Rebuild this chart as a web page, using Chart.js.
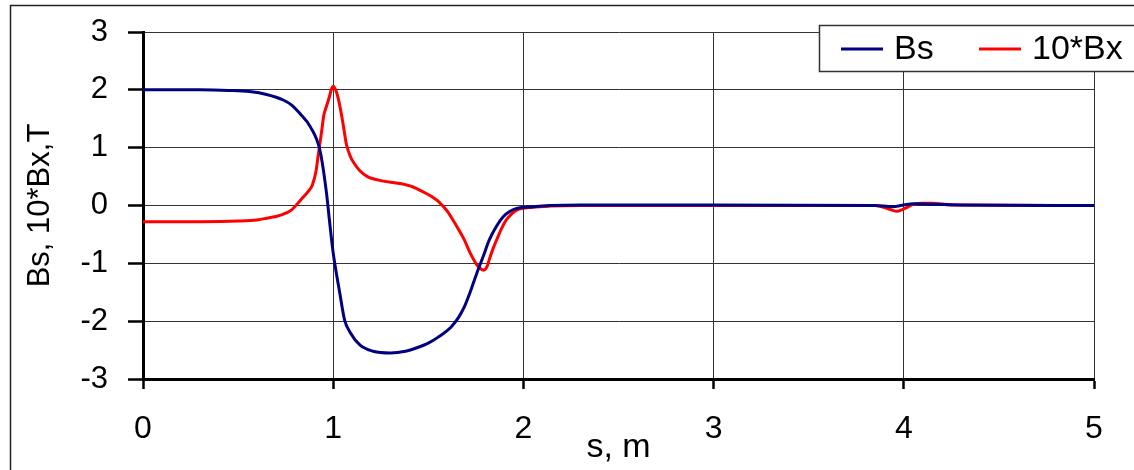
<!DOCTYPE html>
<html>
<head>
<meta charset="utf-8">
<script src="https://cdn.jsdelivr.net/npm/chart.js@4/dist/chart.umd.min.js"></script>
<style>
  html, body { margin: 0; padding: 0; background: #fff; }
  #wrap { width: 1134px; height: 470px; }
</style>
</head>
<body>
<div id="wrap"><canvas id="c" width="1134" height="470"></canvas></div>
<script>
// ---- data ----
const seriesNames = ['Bs', '10*Bx'];
const seriesColors = ['#000080', '#FF0000'];

const bsS = [0, 0.3, 0.45, 0.56, 0.65, 0.74, 0.78, 0.825, 0.88, 0.93, 0.965, 0.98, 1.0, 1.035, 1.06, 1.09, 1.14, 1.21, 1.3, 1.38, 1.44, 1.5, 1.55, 1.62, 1.66, 1.69, 1.72, 1.755, 1.79, 1.82, 1.86, 1.895, 1.93, 1.965, 2.05, 2.14, 2.3, 3.0, 3.85, 3.94, 4.0, 4.05, 4.15, 4.3, 5.0];
const bsV = [2.0, 2.0, 1.99, 1.97, 1.92, 1.82, 1.74, 1.59, 1.36, 0.96, 0.21, -0.25, -0.82, -1.52, -1.98, -2.2, -2.41, -2.52, -2.55, -2.52, -2.46, -2.38, -2.28, -2.1, -1.93, -1.75, -1.5, -1.17, -0.87, -0.6, -0.35, -0.19, -0.1, -0.05, -0.02, 0.0, 0.01, 0.01, 0.0, -0.02, 0.01, 0.03, 0.02, 0.01, 0.0];

const bxS = [0, 0.3, 0.5, 0.6, 0.65, 0.72, 0.78, 0.83, 0.87, 0.89, 0.91, 0.92, 0.94, 0.95, 0.965, 0.98, 0.99, 1.0, 1.015, 1.03, 1.05, 1.07, 1.09, 1.11, 1.14, 1.18, 1.25, 1.35, 1.42, 1.47, 1.52, 1.55, 1.6, 1.62, 1.66, 1.69, 1.72, 1.75, 1.77, 1.79, 1.81, 1.82, 1.84, 1.86, 1.885, 1.91, 1.94, 1.965, 2.05, 2.14, 2.3, 3.0, 3.85, 3.92, 3.96, 4.0, 4.05, 4.1, 4.15, 4.25, 5.0];
const bxV = [-0.28, -0.28, -0.27, -0.25, -0.22, -0.17, -0.08, 0.1, 0.25, 0.35, 0.6, 0.84, 1.3, 1.55, 1.72, 1.88, 2.0, 2.06, 1.98, 1.8, 1.45, 1.05, 0.85, 0.73, 0.6, 0.5, 0.43, 0.38, 0.32, 0.24, 0.15, 0.08, -0.1, -0.2, -0.42, -0.6, -0.82, -1.0, -1.08, -1.12, -1.05, -0.94, -0.75, -0.59, -0.4, -0.25, -0.14, -0.08, -0.03, -0.01, 0.0, 0.0, 0.0, -0.06, -0.1, -0.06, 0.02, 0.04, 0.04, 0.01, 0.0];

const xTickValues = [0, 1, 2, 3, 4, 5];
const yTickValues = [-3, -2, -1, 0, 1, 2, 3];
const xTitle = 's, m';
const yTitle = 'Bs, 10*Bx,T';

// ---- build ----
const FONT = '"Liberation Sans", Arial, sans-serif';
function pts(xs, ys) { return xs.map((x, i) => ({ x: x, y: ys[i] })); }

const frame = {
  id: 'frame',
  beforeDraw(chart) {
    const ctx = chart.ctx;
    ctx.save();
    ctx.fillStyle = '#fff';
    ctx.fillRect(0, 0, chart.width, chart.height);
    ctx.strokeStyle = '#222';
    ctx.lineWidth = 1.5;
    ctx.strokeRect(10.5, 5.5, 1200, 600);
    ctx.restore();
  },
  afterDraw(chart) {
    const ctx = chart.ctx;
    ctx.save();
    // legend box
    ctx.fillStyle = '#fff';
    ctx.fillRect(819, 25, 400, 46);
    ctx.strokeStyle = '#333';
    ctx.lineWidth = 1.5;
    ctx.strokeRect(819.5, 25.5, 400, 46);
    const items = [{ x0: 841, tx: 894 }, { x0: 979, tx: 1032 }];
    chart.data.datasets.forEach((ds, i) => {
      const it = items[i];
      ctx.strokeStyle = ds.borderColor;
      ctx.lineWidth = 3;
      ctx.beginPath();
      ctx.moveTo(it.x0, 49);
      ctx.lineTo(it.x0 + 42, 49);
      ctx.stroke();
      ctx.fillStyle = '#000';
      ctx.font = '34px ' + FONT;
      ctx.textBaseline = 'middle';
      ctx.textAlign = 'left';
      ctx.fillText(ds.label, it.tx, 50);
    });
    ctx.restore();
  }
};

new Chart(document.getElementById('c'), {
  type: 'line',
  data: {
    datasets: [
      { label: seriesNames[0], data: pts(bsS, bsV), borderColor: seriesColors[0], borderWidth: 3, pointRadius: 0, cubicInterpolationMode: 'monotone', fill: false },
      { label: seriesNames[1], data: pts(bxS, bxV), borderColor: seriesColors[1], borderWidth: 3, pointRadius: 0, cubicInterpolationMode: 'monotone', fill: false }
    ]
  },
  options: {
    responsive: false,
    animation: false,
    devicePixelRatio: 1,
    layout: { padding: { left: 0, right: 40, top: 32, bottom: 0 } },
    plugins: { legend: { display: false }, tooltip: { enabled: false } },
    scales: {
      x: {
        type: 'linear', min: 0, max: 5,
        afterBuildTicks(s) { s.ticks = xTickValues.map(v => ({ value: v })); },
        afterFit(s) { s.height = 91; },
        ticks: { font: { family: FONT, size: 32 }, color: '#000', padding: 21, maxRotation: 0 },
        grid: { color: '#333', lineWidth: 1, drawTicks: true, tickLength: 10, tickColor: '#000', tickWidth: 2.5 },
        border: { display: true, color: '#000', width: 3 },
        title: { display: true, text: xTitle, color: '#000', font: { family: FONT, size: 34 }, padding: { top: 0, bottom: 2 } }
      },
      y: {
        type: 'linear', min: -3, max: 3,
        afterBuildTicks(s) { s.ticks = yTickValues.map(v => ({ value: v })); },
        afterFit(s) { s.width = 143; s.paddingTop = 0; s.paddingBottom = 0; },
        ticks: { font: { family: FONT, size: 31 }, color: '#000', padding: 20 },
        grid: { color: '#333', lineWidth: 1, drawTicks: true, tickLength: 15, tickColor: '#000', tickWidth: 2.5 },
        border: { display: true, color: '#000', width: 3 },
        title: { display: true, text: yTitle, color: '#000', font: { family: FONT, size: 31 }, padding: { top: 22, bottom: 0 } }
      }
    }
  },
  plugins: [frame]
});
</script>
</body>
</html>
